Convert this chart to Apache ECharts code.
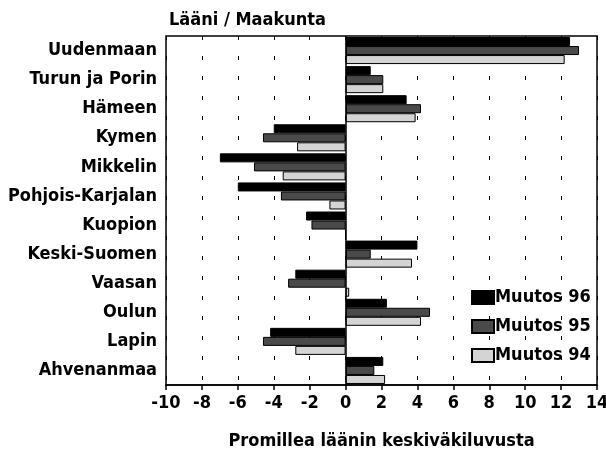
<!DOCTYPE html>
<html><head><meta charset="utf-8">
<script src="https://cdn.jsdelivr.net/npm/echarts@6/dist/echarts.min.js"></script>
<style>html,body{margin:0;padding:0;background:#fff}#c{width:606px;height:449px}</style>
</head><body><div id="c"></div>
<script>
const categories = ['Uudenmaan','Turun ja Porin','Hämeen','Kymen','Mikkelin','Pohjois-Karjalan','Kuopion','Keski-Suomen','Vaasan','Oulun','Lapin','Ahvenanmaa'];
const muutos96 = [12.5, 1.4, 3.4, -4.0, -7.0, -6.0, -2.2, 4.0, -2.8, 2.3, -4.2, 2.1];
const muutos95 = [13.0, 2.1, 4.2, -4.6, -5.1, -3.6, -1.9, 1.4, -3.2, 4.7, -4.6, 1.6];
const muutos94 = [12.2, 2.1, 3.9, -2.7, -3.5, -0.9, 0, 3.7, 0.2, 4.2, -2.8, 2.2];
const seriesNames = ['Muutos 96', 'Muutos 95', 'Muutos 94'];
const xTicks = {min: -10, max: 14, interval: 2};

const FONT = "'DejaVu Sans Condensed', 'Liberation Sans Narrow', sans-serif";
const chart = echarts.init(document.getElementById('c'), null, {renderer: 'canvas'});
const txt = {fontFamily: FONT, fontWeight: 'bold', fontSize: 18, color: '#000'};
chart.setOption({
  animation: false,
  backgroundColor: '#fff',
  title: {text: 'Lääni / Maakunta', left: 164, top: 6, textStyle: Object.assign({}, txt)},
  grid: {left: 166, right: 9, top: 36, bottom: 64, show: true, borderColor: '#000', borderWidth: 1.5,
         containLabel: false, outerBoundsMode: 'none'},
  legend: {
    orient: 'vertical', left: 466, top: 283, itemWidth: 22, itemHeight: 13, itemGap: 10,
    icon: 'rect',
    textStyle: Object.assign({padding: [0,0,0,-4], lineHeight: 19}, txt),
    data: seriesNames
  },
  xAxis: {
    type: 'value', min: xTicks.min, max: xTicks.max, interval: xTicks.interval,
    name: 'Promillea läänin keskiväkiluvusta', nameLocation: 'middle', nameGap: 47,
    nameTextStyle: Object.assign({}, txt),
    axisLine: {show: true, lineStyle: {color: '#000', width: 1.5}},
    axisTick: {show: true, length: 5, lineStyle: {color: '#000', width: 1.5}},
    axisLabel: Object.assign({margin: 9}, txt),
    splitLine: {show: true, lineStyle: {color: '#000', width: 1, type: [4, 16]}}
  },
  yAxis: {
    type: 'category', data: categories, inverse: true,
    axisLine: {show: false, onZero: false}, axisTick: {show: false},
    axisLabel: Object.assign({margin: 9}, txt)
  },
  series: [
    {name: seriesNames[0], type: 'bar', data: muutos96, barGap: '0%', barCategoryGap: '7%',
     itemStyle: {color: '#000', borderColor: '#000', borderWidth: 1},
     markLine: {silent: true, symbol: 'none', label: {show: false},
       lineStyle: {color: '#000', width: 1.5, type: 'solid'}, data: [{xAxis: 0}]}},
    {name: seriesNames[1], type: 'bar', data: muutos95, barGap: '0%', barCategoryGap: '7%',
     itemStyle: {color: '#4a4a4a', borderColor: '#000', borderWidth: 1}},
    {name: seriesNames[2], type: 'bar', data: muutos94, barGap: '0%', barCategoryGap: '7%',
     itemStyle: {color: '#d4d4d4', borderColor: '#000', borderWidth: 1}}
  ]
});
</script></body></html>
